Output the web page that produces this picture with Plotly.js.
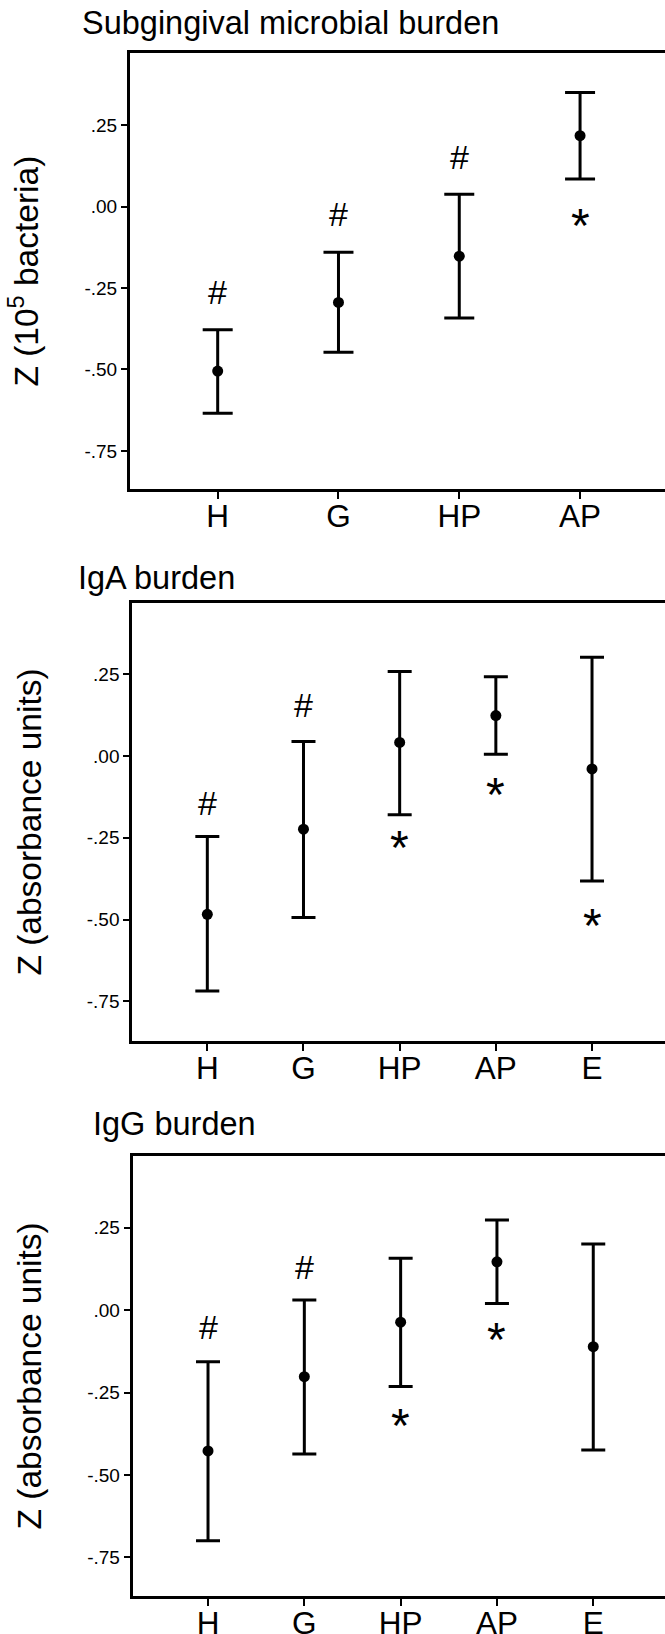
<!DOCTYPE html>
<html>
<head>
<meta charset="utf-8">
<script src="https://cdn.plot.ly/plotly-3.0.1.min.js"></script>
<style>
  html, body { margin: 0; padding: 0; background: #ffffff; overflow: hidden; }
  #chart { width: 668px; height: 1634px; }
</style>
</head>
<body>
<div id="chart"></div>
<script>
// ---------- data ----------
const groups4 = ['H', 'G', 'HP', 'AP'];
const groups5 = ['H', 'G', 'HP', 'AP', 'E'];

const subMean  = [-0.505, -0.294, -0.152, 0.218];
const subUpper = [-0.378, -0.140,  0.038, 0.351];
const subLower = [-0.634, -0.447, -0.342, 0.085];

const igaMean  = [-0.484, -0.224,  0.041, 0.123, -0.040];
const igaUpper = [-0.246,  0.044,  0.258, 0.242,  0.301];
const igaLower = [-0.718, -0.494, -0.180, 0.005, -0.382];

const iggMean  = [-0.427, -0.202, -0.037, 0.146, -0.111];
const iggUpper = [-0.157,  0.030,  0.157, 0.273,  0.200];
const iggLower = [-0.699, -0.436, -0.232, 0.020, -0.424];

// significance marks: group, symbol, y position (data units)
const subMarkGroups = ['H', 'G', 'HP', 'AP'];
const subMarkSyms   = ['#', '#', '#', '*'];
const subMarkY      = [-0.261, -0.023, 0.153, -0.036];

const igaMarkGroups = ['H', 'G', 'HP', 'AP', 'E'];
const igaMarkSyms   = ['#', '#', '*', '*', '*'];
const igaMarkY      = [-0.145, 0.154, -0.257, -0.096, -0.496];

const iggMarkGroups = ['H', 'G', 'HP', 'AP'];
const iggMarkSyms   = ['#', '#', '*', '*'];
const iggMarkY      = [-0.0505, 0.131, -0.328, -0.069];

const yTickVals = [0.25, 0, -0.25, -0.5, -0.75];
const yTickText = ['.25', '.00', '-.25', '-.50', '-.75'];

const panelTitles = ['Subgingival microbial burden', 'IgA burden', 'IgG burden'];
const yTitles = ['Z (10<sup>5</sup> bacteria)', 'Z (absorbance units)', 'Z (absorbance units)'];

// ---------- build ----------
const W = 668, H = 1634;
const FONT = 'Liberation Sans, Arial, sans-serif';

function errTrace(x, mean, upper, lower, xa, ya, capHalf) {
  return {
    type: 'scatter', mode: 'markers', x: x, y: mean, xaxis: xa, yaxis: ya,
    marker: { color: '#000', size: 11 },
    error_y: {
      type: 'data', symmetric: false,
      array: upper.map((u, i) => u - mean[i]),
      arrayminus: lower.map((l, i) => mean[i] - l),
      color: '#000', thickness: 3, width: capHalf
    },
    showlegend: false, hoverinfo: 'skip', cliponaxis: false
  };
}

const data = [
  errTrace(groups4, subMean, subUpper, subLower, 'x', 'y', 15),
  errTrace(groups5, igaMean, igaUpper, igaLower, 'x2', 'y2', 12),
  errTrace(groups5, iggMean, iggUpper, iggLower, 'x3', 'y3', 12)
];

function xAxis(domL, cats, range, anchor) {
  return {
    domain: [domL / W, 1], anchor: anchor, type: 'category',
    categoryorder: 'array', categoryarray: cats, range: range,
    showline: true, linewidth: 3, linecolor: '#000', mirror: true,
    ticks: 'outside', ticklen: 7, tickwidth: 2, tickcolor: '#000',
    ticklabelstandoff: -10,
    tickfont: { family: FONT, size: 31.5, color: '#000' },
    showgrid: false, zeroline: false, fixedrange: true
  };
}
function yAxis(topPx, botPx, range, anchor, title) {
  return {
    domain: [1 - botPx / H, 1 - topPx / H], anchor: anchor, range: range,
    tickmode: 'array', tickvals: yTickVals, ticktext: yTickText,
    showline: true, linewidth: 3, linecolor: '#000', mirror: true,
    ticks: 'outside', ticklen: 6, tickwidth: 2, tickcolor: '#000',
    tickfont: { family: FONT, size: 19, color: '#000' },
    showgrid: false, zeroline: false, fixedrange: true,
    title: { text: title, font: { family: FONT, size: 33.5, color: '#000' }, standoff: 36 }
  };
}

const annotations = [];
function addMarks(groupsArr, syms, ys, xref, yref) {
  groupsArr.forEach((g, i) => {
    const star = syms[i] === '*';
    annotations.push({
      x: g, y: ys[i], xref: xref, yref: yref, text: syms[i], showarrow: false,
      xanchor: 'center', yanchor: 'middle',
      yshift: star ? -7 : 0,
      font: { family: FONT, size: star ? 48 : 34, color: '#000' }
    });
  });
}
addMarks(subMarkGroups, subMarkSyms, subMarkY, 'x', 'y');
addMarks(igaMarkGroups, igaMarkSyms, igaMarkY, 'x2', 'y2');
addMarks(iggMarkGroups, iggMarkSyms, iggMarkY, 'x3', 'y3');

const titleX = [80, 76, 91];
const titleY = [23, 578, 1124];
panelTitles.forEach((t, i) => {
  annotations.push({
    text: t, xref: 'paper', yref: 'paper', x: titleX[i] / W, y: 1 - titleY[i] / H,
    xanchor: 'left', yanchor: 'middle', showarrow: false,
    font: { family: FONT, size: 32.5, color: '#000' }
  });
});

const layout = {
  width: W, height: H,
  margin: { l: 0, r: 0, t: 0, b: 0 },
  paper_bgcolor: '#fff', plot_bgcolor: '#fff',
  showlegend: false,
  xaxis:  xAxis(130, groups4, [-0.726, 3.728], 'y'),
  yaxis:  yAxis(53.3, 489, [-0.867, 0.471], 'x', yTitles[0]),
  xaxis2: xAxis(132.3, groups5, [-0.78, 4.79], 'y2'),
  yaxis2: yAxis(603.3, 1040.7, [-0.870, 0.466], 'x2', yTitles[1]),
  xaxis3: xAxis(132.7, groups5, [-0.782, 4.776], 'y3'),
  yaxis3: yAxis(1155.7, 1596, [-0.8667, 0.4676], 'x3', yTitles[2]),
  annotations: annotations
};

Plotly.newPlot('chart', data, layout, { staticPlot: true, displayModeBar: false });
</script>
</body>
</html>
